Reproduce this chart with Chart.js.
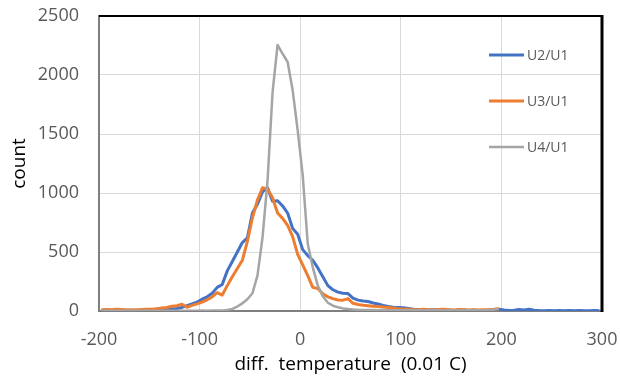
<!DOCTYPE html>
<html>
<head>
<meta charset="utf-8">
<script src="https://cdn.jsdelivr.net/npm/chart.js@4.4.1/dist/chart.umd.min.js"></script>
<style>
  html, body { margin: 0; padding: 0; background: #fff; }
  #wrap { width: 620px; height: 377px; }
</style>
</head>
<body>
<div id="wrap"><canvas id="chart" width="620" height="377"></canvas></div>
<script>
// bin centres (0.01 C)
const bins = [
  -197.5, -192.5, -187.5, -182.5, -177.5, -172.5, -167.5, -162.5, -157.5, -152.5,
  -147.5, -142.5, -137.5, -132.5, -127.5, -122.5, -117.5, -112.5, -107.5, -102.5,
  -97.5, -92.5, -87.5, -82.5, -77.5, -72.5, -67.5, -62.5, -57.5, -52.5,
  -47.5, -42.5, -37.5, -32.5, -27.5, -22.5, -17.5, -12.5, -7.5, -2.5,
  2.5, 7.5, 12.5, 17.5, 22.5, 27.5, 32.5, 37.5, 42.5, 47.5,
  52.5, 57.5, 62.5, 67.5, 72.5, 77.5, 82.5, 87.5, 92.5, 97.5,
  102.5, 107.5, 112.5, 117.5, 122.5, 127.5, 132.5, 137.5, 142.5, 147.5,
  152.5, 157.5, 162.5, 167.5, 172.5, 177.5, 182.5, 187.5, 192.5, 197.5,
  202.5, 207.5, 212.5, 217.5, 222.5, 227.5, 232.5, 237.5, 242.5, 247.5,
  252.5, 257.5, 262.5, 267.5, 272.5, 277.5, 282.5, 287.5, 292.5, 297.5
];

// U2/U1 counts (all bins)
const u2 = [
  5, 8, 6, 10, 8, 5, 7, 5, 8, 10,
  6, 8, 12, 15, 18, 22, 30, 45, 60, 75,
  100, 120, 150, 200, 225, 340, 420, 500, 580, 620,
  830, 905, 1010, 1045, 930, 935, 890, 830, 700, 650,
  520, 470, 430, 365, 290, 215, 180, 160, 150, 148,
  110, 92, 85, 80, 68, 60, 48, 38, 32, 30,
  28, 22, 15, 12, 10, 8, 10, 8, 6, 8,
  5, 6, 8, 5, 6, 4, 5, 6, 10, 15,
  8, 5, 6, 12, 8, 14, 6, 4, 3, 4,
  3, 5, 3, 4, 3, 4, 3, 3, 4, 3
];

// U3/U1 counts (bins up to 197.5)
const u3 = [
  10, 12, 10, 15, 12, 10, 8, 10, 12, 15,
  15, 20, 25, 30, 40, 45, 57, 32, 48, 60,
  75, 95, 120, 155, 135, 215, 290, 360, 430, 590,
  790, 940, 1045, 1035, 960, 830, 785, 725, 630, 480,
  390, 300, 200, 190, 145, 120, 105, 93, 92, 105,
  65, 55, 48, 45, 40, 38, 33, 30, 25, 20,
  18, 15, 12, 10, 14, 10, 8, 12, 15, 10,
  8, 12, 10, 8, 10, 8, 10, 12, 15, 20
];

// U4/U1 counts (bins up to 197.5)
const u4 = [
  2, 3, 2, 3, 2, 2, 3, 2, 2, 3,
  2, 3, 2, 2, 3, 2, 3, 2, 3, 3,
  4, 3, 4, 5, 5, 8, 18, 38, 65, 100,
  150, 300, 620, 1100, 1850, 2255, 2180, 2110, 1870, 1530,
  1150, 570, 370, 215, 125, 70, 45, 32, 22, 16,
  12, 10, 9, 8, 8, 7, 8, 7, 6, 7,
  6, 8, 6, 7, 6, 5, 6, 7, 5, 6,
  5, 6, 5, 6, 6, 5, 6, 8, 12, 18
];

const seriesNames = ['U2/U1', 'U3/U1', 'U4/U1'];
const seriesColors = ['#4472C4', '#ED7D31', '#A5A5A5'];
const xTicks = [-200, -100, 0, 100, 200, 300];
const yTicks = [0, 500, 1000, 1500, 2000, 2500];

const FONT = "'Open Sans', 'DejaVu Sans', sans-serif";

function toPoints(vals) {
  return vals.map((v, i) => ({ x: bins[i], y: v }));
}

// draws the black top/right frame and the legend inside the plot
const frameLegend = {
  id: 'frameLegend',
  afterDatasetsDraw(chart) {
    const { ctx, chartArea: a } = chart;
    ctx.save();
    ctx.strokeStyle = '#000';
    ctx.lineWidth = 2;
    ctx.beginPath();
    ctx.moveTo(a.left, a.top);
    ctx.lineTo(a.right, a.top);
    ctx.stroke();
    ctx.lineWidth = 3;
    ctx.beginPath();
    ctx.moveTo(a.right, a.top - 1);
    ctx.lineTo(a.right, a.bottom + 1);
    ctx.stroke();

    const rows = [55, 101, 147];
    ctx.font = '14px ' + FONT;
    ctx.textBaseline = 'middle';
    ctx.textAlign = 'left';
    chart.data.datasets.forEach((ds, i) => {
      const y = rows[i];
      ctx.strokeStyle = ds.borderColor;
      ctx.lineWidth = ds.borderWidth;
      ctx.beginPath();
      ctx.moveTo(489, y);
      ctx.lineTo(524, y);
      ctx.stroke();
      ctx.fillStyle = '#595959';
      ctx.fillText(ds.label, 527, y + 1);
    });
    ctx.restore();
  }
};

const ctx = document.getElementById('chart').getContext('2d');
new Chart(ctx, {
  type: 'line',
  data: {
    datasets: [
      { label: seriesNames[0], data: toPoints(u2), borderColor: seriesColors[0], borderWidth: 3, order: 3 },
      { label: seriesNames[1], data: toPoints(u3), borderColor: seriesColors[1], borderWidth: 3, order: 2 },
      { label: seriesNames[2], data: toPoints(u4), borderColor: seriesColors[2], borderWidth: 2.5, order: 1 }
    ]
  },
  options: {
    responsive: false,
    animation: false,
    devicePixelRatio: 1,
    elements: {
      point: { radius: 0 },
      line: { tension: 0, fill: false, borderJoinStyle: 'round' }
    },
    layout: { padding: { top: 16, right: 18, left: 0, bottom: 0 } },
    plugins: {
      legend: { display: false },
      tooltip: { enabled: false }
    },
    scales: {
      x: {
        type: 'linear',
        min: xTicks[0],
        max: xTicks[xTicks.length - 1],
        afterBuildTicks(scale) { scale.ticks = xTicks.map(v => ({ value: v })); },
        afterFit(scale) {
          scale.height = 66;
          scale.paddingLeft = 0;
          scale.paddingRight = 0;
        },
        grid: { color: '#d9d9d9', lineWidth: 1, drawTicks: false },
        border: { color: '#7f7f7f', width: 2 },
        ticks: { color: '#595959', font: { family: FONT, size: 18 }, padding: 18, callback: v => String(v) },
        title: {
          display: true,
          text: 'diff.  temperature  (0.01 C)',
          color: '#000',
          font: { family: FONT, size: 19 },
          padding: { top: 0, bottom: 1 }
        }
      },
      y: {
        min: yTicks[0],
        max: yTicks[yTicks.length - 1],
        afterBuildTicks(scale) { scale.ticks = yTicks.map(v => ({ value: v })); },
        afterFit(scale) {
          scale.width = 99;
          scale.paddingTop = 0;
          scale.paddingBottom = 0;
        },
        grid: { color: '#d9d9d9', lineWidth: 1, drawTicks: false },
        border: { color: '#7f7f7f', width: 2 },
        ticks: { color: '#595959', font: { family: FONT, size: 18 }, padding: 20, callback: v => String(v) },
        title: {
          display: true,
          text: 'count',
          color: '#000',
          font: { family: FONT, size: 19 },
          padding: { top: 8, bottom: 0 }
        }
      }
    }
  },
  plugins: [frameLegend]
});
</script>
</body>
</html>
